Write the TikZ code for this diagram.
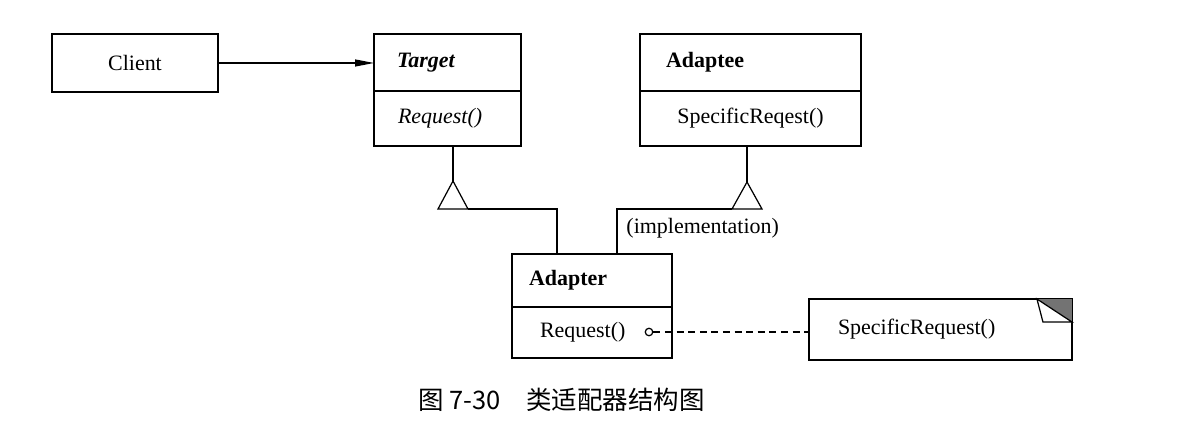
\documentclass[tikz,border=0pt]{standalone}
\usepackage{fontspec}
\setmainfont{Liberation Serif}
\newfontfamily\cjk{Noto Sans CJK SC}
\usetikzlibrary{positioning,arrows.meta,calc}

\begin{document}
\begin{tikzpicture}[x=0.02cm, y=-0.02cm, line width=0.7pt,
        font=\fontsize{12.5}{15}\selectfont,
        box/.style = {draw, rectangle, inner ysep=0pt, outer sep=0pt, anchor=north west},
        part/.style = {draw, rectangle, inner ysep=0pt, outer sep=0pt}]
    \useasboundingbox (0,0) rectangle (1190,429);

    \node[box, minimum height=1.16cm, inner xsep=0pt, text width=3.32cm, align=center] (client) at (52,34) {Client};

    \node[box, minimum height=1.14cm, inner xsep=0.46cm, text width=2.02cm, align=left] (target) at (374,34) {\textbf{\textit{Target}}};
    \node[part, below=0pt of target, minimum height=1.10cm, inner xsep=0.48cm, text width=1.98cm, align=left] (target-op) {\textit{Request()}};

    \node[box, minimum height=1.14cm, inner xsep=0.52cm, text width=3.38cm, align=left] (adaptee) at (640,34) {\textbf{Adaptee}};
    \node[part, below=0pt of adaptee, minimum height=1.10cm, inner xsep=0pt, text width=4.42cm, align=center] (adaptee-op) {SpecificReqest()};

    \node[box, minimum height=1.06cm, inner xsep=0.34cm, text width=2.52cm, align=left] (adapter) at (512,254) {\textbf{Adapter}};
    \node[part, below=0pt of adapter, minimum height=1.02cm, inner xsep=0.56cm, text width=2.08cm, align=left] (adapter-op) {Request()};

    \node[box, minimum height=1.22cm, inner xsep=0.58cm, text width=4.10cm, align=left] (note) at (809,299) {SpecificRequest()};

    \node[draw, circle, inner sep=0pt, minimum size=0.15cm] (dot) at (649,332) {};
    \node[anchor=west] (impl) at (620,228) {(implementation)};
    \node[anchor=west, font=\cjk\fontsize{14.5}{17}\selectfont] (caption) at (412,400) {图 7-30\quad 类适配器结构图};

    % association
    \draw[-{Triangle[length=0.38cm, width=0.14cm]}] (client.east) -- (client.east -| target.west);

    % inheritance
    \coordinate (t-tip) at (453,181);
    \coordinate (e-tip) at (747,182);
    \coordinate (a-left) at (557,254);
    \coordinate (a-right) at (617,254);
    \draw (target-op.south -| t-tip) -- (t-tip);
    \draw (t-tip) -- ++(-15,28) -- ++(30,0) -- cycle;
    \draw (t-tip) ++(15,28) -| (a-left);
    \draw (adaptee-op.south -| e-tip) -- (e-tip);
    \draw (e-tip) -- ++(-15,27) -- ++(30,0) -- cycle;
    \draw (e-tip) ++(-15,27) -| (a-right);

    % note
    \draw[dash pattern=on 4pt off 2.6pt] (dot) -- (dot -| note.west);
    \fill[black!55] ($(note.north east)+(-35,0)$) -- (note.north east) -- ++(0,23) -- cycle;
    \filldraw[fill=white] ($(note.north east)+(-35,0)$) -- ++(6,23) -- ++(29,0) -- cycle;
    \draw[line width=1.3pt] (note.south west) -- (note.south east);
\end{tikzpicture}
\end{document}
